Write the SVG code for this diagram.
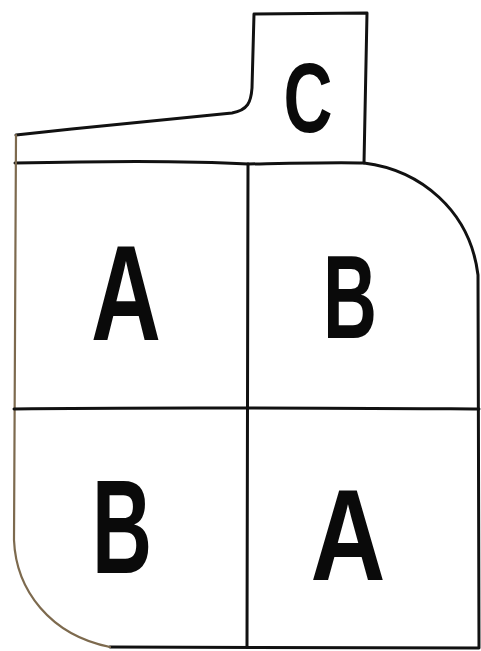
<svg xmlns="http://www.w3.org/2000/svg" width="481" height="651" viewBox="0 0 481 651">
<style>
.ln{fill:none;stroke:#111;stroke-width:3;stroke-linecap:round;stroke-linejoin:round}
.tan{fill:none;stroke:#7d6a4e;stroke-width:2.2;stroke-linecap:round}
.lb{font-family:"Liberation Sans",Arial,sans-serif;font-weight:bold;fill:#0a0a0a;text-anchor:middle}
</style>
<rect width="481" height="651" fill="#fff"/>
<g id="outline">
<path class="ln" d="M16,135 C90,127 170,119 232,113 C248,110 251,102 252,88 L254,14 L367,13 L364,163"/>
<path class="ln" d="M15,163 C100,161 180,160 248,164 C300,163 340,162 364,163 C420,170 470,210 478,275 L479,648 L110,647"/>
<path class="tan" d="M16,135 L14,540 C16,590 50,635 110,647"/>
</g>
<g id="connectors">
<path class="ln" d="M248,164 L247,647"/>
<path class="ln" d="M14,409 C150,407 300,408 479,409"/>
</g>
<g id="nodeC"><text class="lb" x="308" y="132" font-size="98" textLength="49" lengthAdjust="spacingAndGlyphs">C</text></g>
<g id="nodeA1"><text class="lb" x="126" y="340" font-size="135" textLength="70" lengthAdjust="spacingAndGlyphs">A</text></g>
<g id="nodeB1"><text class="lb" x="350" y="338" font-size="119" textLength="54" lengthAdjust="spacingAndGlyphs">B</text></g>
<g id="nodeB2"><text class="lb" x="122" y="573" font-size="133" textLength="60" lengthAdjust="spacingAndGlyphs">B</text></g>
<g id="nodeA2"><text class="lb" x="348" y="580" font-size="130" textLength="75" lengthAdjust="spacingAndGlyphs">A</text></g>
</svg>
